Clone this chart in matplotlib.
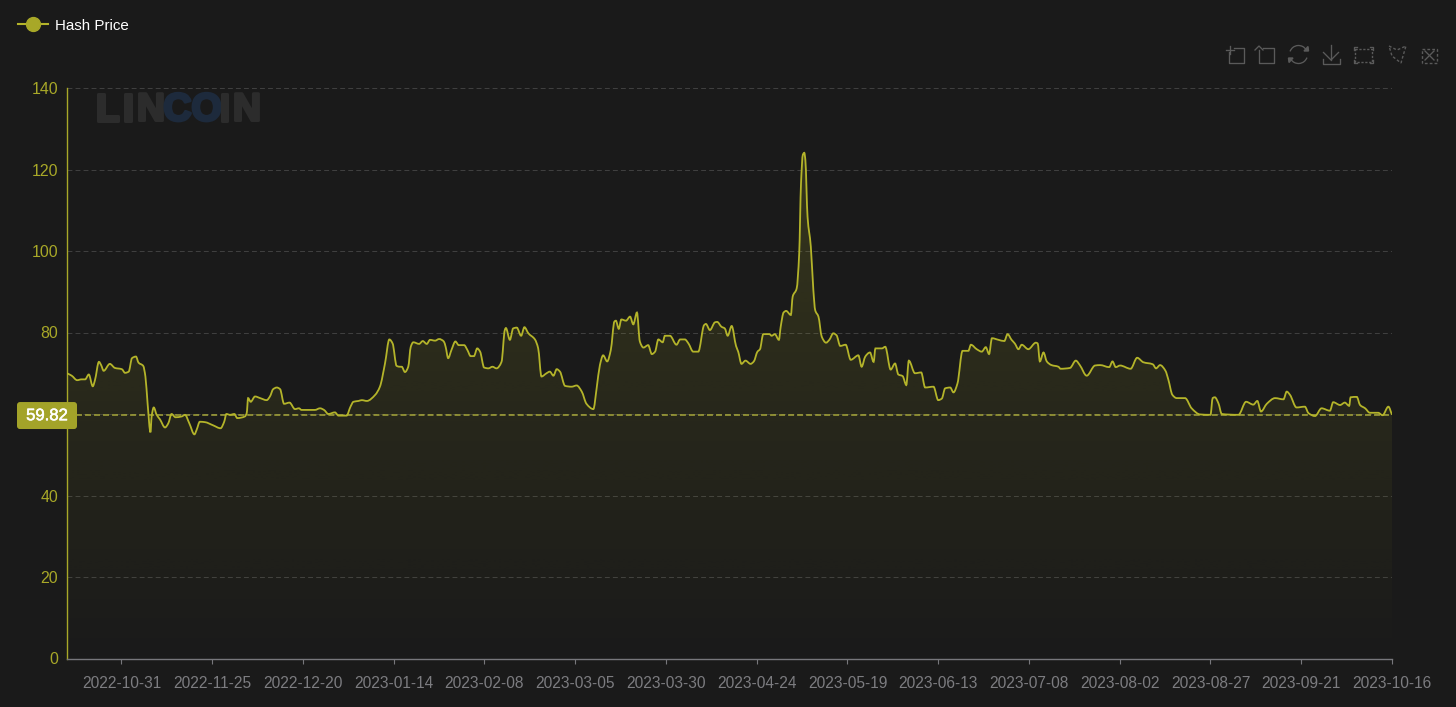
import numpy as np
import matplotlib
matplotlib.use('Agg')
import matplotlib.pyplot as plt
import matplotlib.patheffects as pe
from matplotlib.path import Path
from matplotlib.patches import PathPatch, Rectangle, Arc, Polygon, FancyBboxPatch
from matplotlib.lines import Line2D
from matplotlib.transforms import IdentityTransform

#PARAMETERS
BG = '#1a1a1a'
OLIVE = '#a8a828'
LINE_COLOR = '#b4b42a'
GRID = '#3f3f3f'
GREY_TEXT = '#7c7c80'
ICON = '#5a5a5a'
plt.rcParams['font.family'] = ['Liberation Sans', 'DejaVu Sans']

#days since 2022-10-16
days = [0, 1.3, 2.8, 4, 5, 6, 7.1, 7.7, 8.8, 9.4, 10.1, 11.8, 13.2, 15.1, 16, 17, 17.9, 19, 19.7, 21,
        21.6, 22.2, 23, 23.3, 23.9, 24.7, 25.6, 27, 27.9, 28.8, 29.9, 31.6, 32.5, 33.7, 35.1, 35.7, 36.6, 38, 40.3, 42.3,
        43.3, 43.9, 44.9, 46.1, 46.9, 49, 49.5, 49.9, 50.6, 51.8, 53.2, 55, 55.9, 56.8, 57.8, 58.7, 59.8, 61.3, 62.8, 63.9,
        64.6, 68.3, 69.7, 70.8, 72, 73.8, 74.8, 77, 78.1, 78.9, 80.3, 81.2, 82.6, 84.9, 86.2, 87.6, 88.8, 89.7, 90.8, 91.7,
        92.2, 93.1, 94, 94.7, 95.4, 97, 98, 99.1, 100, 101.4, 102.5, 103.8, 104.3, 105, 105.9, 107, 107.9, 109.4, 110.3, 111.2,
        112.1, 113, 113.8, 114.9, 116.1, 117.2, 118.3, 119.7, 120.6, 120.9, 122, 122.9, 123.9, 125.1, 126, 127.1, 128.9, 129.8, 130.7, 132.1,
        133, 134, 134.9, 135.8, 137.2, 139, 140.4, 141.8, 143.1, 145, 145.9, 146.8, 147.7, 148.8, 149.8, 150.8, 151.2, 152, 152.7, 154,
        155.1, 156, 157, 157.8, 158.8, 160.1, 161.1, 162, 162.9, 164.1, 164.7, 166.1, 167.9, 168.9, 170.2, 171.2, 172.5, 173.9, 175.5, 176,
        177.1, 178.5, 179.1, 180.3, 181.2, 182, 183.1, 184.3, 184.9, 185.8, 186.9, 188.3, 189.2, 190.2, 190.9, 191.8, 193.5, 194.1, 195, 196.1,
        196.6, 197.4, 198.1, 199.4, 199.9, 201, 201.7, 202.2, 202.7, 203.1, 203.4, 204, 204.9, 205.6, 206.1, 207, 207.9, 209.1, 210, 211.1,
        212, 213, 214.5, 215.9, 218, 218.9, 219.9, 221.2, 222.2, 222.7, 224.5, 225.4, 226.9, 228.1, 229, 230.2, 231.2, 231.9, 233.6, 235.3,
        236.4, 238.7, 240, 241, 241.9, 243.3, 244.2, 245.3, 246.7, 248.3, 249, 250.6, 252, 253.1, 254, 254.8, 256.6, 258.2, 259.1, 260.2,
        261.1, 262.1, 263, 264.8, 266.9, 267.4, 268, 269, 269.9, 271.2, 273.1, 273.7, 276.3, 277.9, 279, 280.9, 283.2, 284.6, 287.1, 288,
        288.9, 290.1, 293, 294.8, 296.5, 299.1, 300, 301.1, 302.6, 303.4, 304.5, 305.7, 308, 309.8, 312.1, 315, 315.6, 316.2, 317.2, 318.1,
        322.7, 324.8, 326.8, 327.9, 328.9, 330.5, 332.8, 335.1, 336, 336.9, 338.7, 341, 342, 343.8, 345.6, 347.9, 348.8, 350.7, 352, 353.2,
        353.6, 355.3, 356.2, 357.6, 358.9, 361.2, 362.4, 364, 365]

hash_price = [70.0, 69.4, 68.3, 68.5, 68.5, 69.7, 66.8, 68.3, 72.8, 72.0, 70.6, 72.3, 71.3, 71.0, 70.1, 70.4, 73.7, 74.1, 72.6, 71.8,
              69.2, 62.6, 55.5, 59.3, 61.6, 59.8, 58.7, 56.7, 57.7, 60.0, 59.2, 59.4, 59.8, 57.7, 55.0, 56.1, 58.1, 58.0, 57.2, 56.5,
              58.1, 60.0, 59.8, 60.0, 59.0, 59.4, 60.2, 63.9, 63.0, 64.3, 63.9, 63.4, 64.3, 66.1, 66.5, 66.1, 62.5, 62.8, 61.2, 61.4,
              61.0, 61.0, 61.4, 61.0, 60.0, 60.4, 59.6, 59.6, 61.8, 63.0, 63.2, 63.4, 63.2, 64.7, 66.7, 72.4, 78.3, 77.3, 71.8, 71.6,
              71.6, 70.3, 71.6, 76.5, 77.6, 77.2, 77.9, 77.2, 78.2, 78.0, 78.4, 77.8, 76.5, 73.7, 75.7, 77.8, 76.9, 76.9, 75.7, 74.2,
              74.2, 76.1, 75.3, 71.4, 71.2, 71.6, 71.2, 72.8, 80.6, 81.1, 78.2, 81.0, 81.2, 79.2, 81.3, 79.8, 78.3, 76.1, 69.2, 70.0,
              70.4, 69.4, 71.0, 70.4, 66.9, 66.7, 67.0, 65.5, 62.5, 61.2, 66.3, 72.0, 74.4, 72.9, 75.7, 82.7, 82.9, 80.9, 83.2, 82.9,
              83.9, 82.0, 84.9, 77.8, 76.3, 76.9, 74.7, 75.3, 78.3, 77.6, 79.2, 79.2, 77.0, 78.3, 78.3, 77.3, 75.3, 75.3, 81.8, 82.1,
              80.6, 82.5, 82.6, 81.4, 81.0, 79.2, 81.6, 76.7, 75.3, 72.3, 73.1, 72.3, 72.9, 75.3, 75.9, 79.6, 79.6, 79.2, 79.6, 78.2,
              81.4, 84.9, 85.3, 84.3, 88.8, 90.8, 99.4, 116.6, 123.6, 124.1, 122.3, 108.4, 101.1, 90.4, 85.5, 83.9, 79.0, 77.5, 78.2, 79.8,
              79.3, 76.7, 77.0, 73.3, 74.4, 71.6, 74.1, 75.1, 72.8, 76.1, 76.1, 76.5, 70.9, 72.4, 69.7, 69.3, 67.1, 73.1, 70.0, 70.2,
              66.5, 66.7, 63.4, 63.8, 66.3, 66.5, 65.3, 67.5, 75.5, 75.5, 77.0, 75.9, 75.3, 76.4, 74.7, 78.6, 78.2, 77.9, 79.6, 78.2,
              77.3, 75.9, 77.0, 75.9, 77.5, 77.3, 72.9, 75.1, 72.9, 72.0, 71.6, 71.1, 71.3, 73.1, 72.0, 69.4, 71.9, 72.0, 71.5, 72.9,
              71.5, 71.9, 71.1, 73.8, 72.7, 72.2, 71.2, 72.0, 70.6, 68.4, 64.7, 63.9, 63.9, 61.4, 59.9, 59.8, 63.9, 64.1, 62.6, 60.0,
              59.8, 63.0, 62.3, 63.2, 60.6, 62.5, 63.9, 63.6, 65.5, 64.7, 61.6, 61.8, 60.2, 59.5, 61.4, 60.8, 62.9, 62.2, 62.8, 62.0,
              64.1, 64.2, 62.2, 61.4, 60.3, 60.3, 59.7, 61.8, 59.82]

last_price = 59.82
y_ticks = [0, 20, 40, 60, 80, 100, 120, 140]
y_tick_labels = ['0', '20', '40', '', '80', '100', '120', '140'] #60 sits under the badge
x_tick_days = [15, 40, 65, 90, 115, 140, 165, 190, 215, 240, 265, 290, 315, 340, 365]
x_tick_labels = ['2022-10-31', '2022-11-25', '2022-12-20', '2023-01-14', '2023-02-08',
                 '2023-03-05', '2023-03-30', '2023-04-24', '2023-05-19', '2023-06-13',
                 '2023-07-08', '2023-08-02', '2023-08-27', '2023-09-21', '2023-10-16']


def monotone_path(x, y):
    #bezier segments through the points with monotone tangents, no overshoot
    x, y = np.asarray(x, float), np.asarray(y, float)
    h = np.diff(x)
    s = np.diff(y) / h
    m = np.zeros_like(y)
    for i in range(1, len(x) - 1):
        if s[i-1] * s[i] > 0:
            w1 = 2*h[i] + h[i-1]
            w2 = h[i] + 2*h[i-1]
            m[i] = (w1 + w2) / (w1/s[i-1] + w2/s[i])
    m[0], m[-1] = s[0], s[-1]
    verts = [(x[0], y[0])]
    codes = [Path.MOVETO]
    for i in range(len(h)):
        verts += [(x[i] + h[i]/3, y[i] + m[i]*h[i]/3),
                  (x[i+1] - h[i]/3, y[i+1] - m[i+1]*h[i]/3),
                  (x[i+1], y[i+1])]
        codes += [Path.CURVE4] * 3
    return verts, codes


W, H = 1456, 707
fig = plt.figure(figsize=(W/100, H/100), dpi=100, facecolor=BG)
ax = fig.add_axes([67/W, 1 - 658.5/H, (1392-67)/W, (658.5-88)/H], facecolor=BG)

#overlay in pixel coordinates for watermark and toolbox icons
ov = fig.add_axes([0, 0, 1, 1], facecolor='none', zorder=0)
ov.set_xlim(0, W)
ov.set_ylim(H, 0)
ov.axis('off')
ax.set_zorder(1)
ax.patch.set_alpha(0)

for letter, cx, col in [('L', 107.5, '#2c2c2c'), ('I', 128, '#2c2c2c'), ('N', 151, '#2c2c2c'),
                        ('CO', 192.5, '#1d2a3c'), ('I', 224.5, '#2c2c2c'), ('N', 247, '#2c2c2c')]:
    ov.text(cx, 106.5, letter, ha='center', va='center_baseline', fontsize=28, fontweight='bold', color=col,
            path_effects=[pe.withStroke(linewidth=2.2, foreground=col)])


def icon_line(xs, ys, ls='-'):
    ov.add_line(Line2D(xs, ys, color=ICON, lw=0.95, ls=ls))


#crop
icon_line([1234, 1244, 1244, 1229, 1229], [48, 48, 63, 63, 52])
icon_line([1225.5, 1234], [50, 50])
icon_line([1229.5, 1229.5], [45.5, 54])
#back
icon_line([1263, 1274, 1274, 1259, 1259], [48, 48, 63, 63, 50])
icon_line([1255, 1259, 1263], [50, 46, 50])
#refresh
ov.add_patch(Arc((1298.5, 54.5), 18, 18, theta1=200, theta2=330, color=ICON, lw=0.95))
ov.add_patch(Arc((1298.5, 54.5), 18, 18, theta1=20, theta2=150, color=ICON, lw=0.95))
ov.add_patch(Polygon([(1304, 51), (1308.5, 51), (1308, 46.5)], color=ICON))
ov.add_patch(Polygon([(1293, 58), (1288.5, 58), (1289, 62.5)], color=ICON))
#download
icon_line([1331, 1331], [45, 60])
icon_line([1323.5, 1331, 1338.5], [52.5, 60, 52.5])
icon_line([1322.5, 1322.5, 1339.5, 1339.5], [59, 63.5, 63.5, 59])
#zoom rect
ov.add_patch(Rectangle((1355, 48.5), 17, 13, fill=False, ec=ICON, lw=1, ls=(0, (1.6, 1.2))))
for cx, cy, dx, dy in [(1354, 47, 1, 1), (1373, 47, -1, 1), (1354, 63, 1, -1), (1373, 63, -1, -1)]:
    icon_line([cx + 3*dx, cx, cx], [cy, cy, cy + 3*dy])
#lasso
ov.add_patch(Polygon([(1389, 46), (1397, 50), (1406, 46), (1403, 56), (1401, 63), (1392, 56)],
                     fill=False, ec=ICON, lw=1, ls=(0, (2, 1.5))))
#clear
ov.add_patch(Rectangle((1422, 48.5), 15, 14, fill=False, ec=ICON, lw=1, ls=(0, (2, 1.5))))
icon_line([1425, 1434], [51, 60])
icon_line([1425, 1434], [60, 51])

verts, codes = monotone_path(days, hash_price)

#gradient area under the curve
area_verts = verts + [(days[-1], 0), (days[0], 0), (days[0], hash_price[0])]
area_codes = codes + [Path.LINETO, Path.LINETO, Path.CLOSEPOLY]
area = PathPatch(Path(area_verts, area_codes), transform=ax.transData, fc='none', ec='none')
ax.add_patch(area)
rgba = np.zeros((256, 2, 4))
rgba[..., :3] = matplotlib.colors.to_rgb(OLIVE)
rgba[..., 3] = np.linspace(0.2, 0.0, 256)[:, None]
img = ax.imshow(rgba, extent=(0, 365, 0, max(hash_price)), origin='upper', aspect='auto',
                interpolation='bilinear', zorder=1)
img.set_clip_path(area)

ax.add_patch(PathPatch(Path(verts, codes), fc='none', ec=LINE_COLOR, lw=1.3, zorder=3))
ax.axhline(last_price, color='#a6a63a', lw=1.1, ls=(0, (3.9, 2)), zorder=2.5)

ax.set_xlim(0, 365)
ax.set_ylim(0, 140)
ax.set_yticks(y_ticks, y_tick_labels)
ax.set_xticks(x_tick_days, x_tick_labels)
ax.grid(axis='y', color=GRID, lw=0.75, ls=(0, (4.7, 3)), zorder=0)
ax.set_axisbelow(True)
for side in ['top', 'right']:
    ax.spines[side].set_visible(False)
ax.spines['left'].set_color(OLIVE)
ax.spines['left'].set_linewidth(1.0)
ax.spines['bottom'].set_color('#77777c')
ax.spines['bottom'].set_linewidth(1.0)
ax.tick_params(axis='y', length=0, pad=6.5, labelcolor=OLIVE, labelsize=11.4)
ax.tick_params(axis='x', length=3.8, width=0.8, color='#77777c', pad=9, labelcolor=GREY_TEXT, labelsize=11.2)

#badge with the latest value, drawn in pixels around the data level
badge_y = ax.transData.transform((0, last_price))[1]
fig.add_artist(FancyBboxPatch((17, badge_y - 14.3), 60, 27, boxstyle='round,pad=0,rounding_size=3',
                              fc='#a3a329', ec='none', transform=IdentityTransform(), zorder=5))
fig.text(47, badge_y - 1, f'{last_price:.2f}', ha='center', va='center', color='white', fontsize=12,
         transform=IdentityTransform(), zorder=6,
         path_effects=[pe.withStroke(linewidth=0.4, foreground='white')])

proxy = Line2D([], [], color=LINE_COLOR, lw=1.5, marker='o', ms=10, mfc=OLIVE, mec=OLIVE, label='Hash Price')
leg = ax.legend(handles=[proxy], loc='center left', bbox_to_anchor=(18/W, 1 - 25.5/H),
                bbox_transform=fig.transFigure, frameon=False, fontsize=10.9,
                handlelength=1.98, handletextpad=0.46, borderpad=0, borderaxespad=0)
leg.get_texts()[0].set_color('white')

fig.savefig('out.png', dpi=100, facecolor=BG)
